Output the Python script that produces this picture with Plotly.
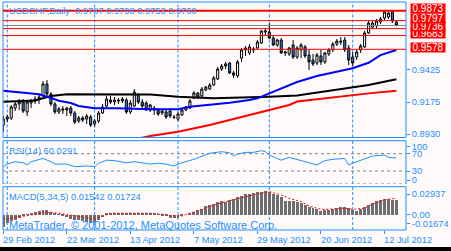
import plotly.graph_objects as go

# ---------------- data ----------------
bar_index = list(range(100))
date_labels = ["29 Feb 2012", "22 Mar 2012", "13 Apr 2012", "7 May 2012",
               "29 May 2012", "20 Jun 2012", "12 Jul 2012"]
date_label_bars = [0, 16, 32, 48, 64, 80, 96]
month_start_bars = [1, 23, 44, 67, 88]

open_ = [0.8999, 0.9045, 0.9053, 0.9129, 0.9160, 0.9175, 0.9099, 0.9167, 0.9183, 0.9198,
         0.9221, 0.9313, 0.9236, 0.9160, 0.9099, 0.9122, 0.9114, 0.9129, 0.9091, 0.9030,
         0.9053, 0.9045, 0.9060, 0.9007, 0.9030, 0.9091, 0.9144, 0.9190, 0.9175, 0.9190,
         0.9183, 0.9190, 0.9099, 0.9144, 0.9229, 0.9175, 0.9167, 0.9114, 0.9129, 0.9114,
         0.9091, 0.9099, 0.9106, 0.9060, 0.9045, 0.9076, 0.9114, 0.9129, 0.9206, 0.9244,
         0.9221, 0.9267, 0.9274, 0.9305, 0.9351, 0.9427, 0.9450, 0.9473, 0.9397, 0.9374,
         0.9511, 0.9573, 0.9550, 0.9573, 0.9588, 0.9626, 0.9710, 0.9710, 0.9664, 0.9611,
         0.9649, 0.9550, 0.9542, 0.9611, 0.9519, 0.9573, 0.9596, 0.9534, 0.9496, 0.9473,
         0.9527, 0.9481, 0.9542, 0.9573, 0.9618, 0.9641, 0.9649, 0.9588, 0.9519, 0.9519,
         0.9573, 0.9596, 0.9703, 0.9748, 0.9756, 0.9787, 0.9817, 0.9825, 0.9863, 0.9787]
high = [0.9068, 0.9076, 0.9152, 0.9175, 0.9198, 0.9198, 0.9190, 0.9198, 0.9221, 0.9229,
        0.9336, 0.9343, 0.9251, 0.9175, 0.9137, 0.9144, 0.9137, 0.9144, 0.9106, 0.9068,
        0.9068, 0.9083, 0.9076, 0.9045, 0.9106, 0.9160, 0.9221, 0.9221, 0.9213, 0.9206,
        0.9213, 0.9206, 0.9190, 0.9274, 0.9244, 0.9198, 0.9183, 0.9160, 0.9144, 0.9129,
        0.9122, 0.9114, 0.9129, 0.9076, 0.9099, 0.9129, 0.9144, 0.9198, 0.9259, 0.9251,
        0.9290, 0.9297, 0.9320, 0.9374, 0.9443, 0.9466, 0.9481, 0.9481, 0.9412, 0.9496,
        0.9588, 0.9603, 0.9618, 0.9596, 0.9649, 0.9725, 0.9741, 0.9779, 0.9680, 0.9657,
        0.9664, 0.9565, 0.9596, 0.9649, 0.9603, 0.9626, 0.9611, 0.9573, 0.9542, 0.9550,
        0.9573, 0.9557, 0.9588, 0.9634, 0.9657, 0.9672, 0.9672, 0.9611, 0.9557, 0.9573,
        0.9618, 0.9718, 0.9794, 0.9794, 0.9810, 0.9825, 0.9870, 0.9868, 0.9873, 0.9798]
low = [0.8946, 0.9022, 0.9037, 0.9106, 0.9114, 0.9091, 0.9068, 0.9129, 0.9160, 0.9160,
       0.9213, 0.9213, 0.9144, 0.9083, 0.9083, 0.9083, 0.9068, 0.9068, 0.9007, 0.9014,
       0.9022, 0.9007, 0.8984, 0.8984, 0.9014, 0.9083, 0.9137, 0.9160, 0.9152, 0.9160,
       0.9167, 0.9083, 0.9083, 0.9137, 0.9160, 0.9129, 0.9106, 0.9099, 0.9076, 0.9068,
       0.9076, 0.9045, 0.9053, 0.9045, 0.9030, 0.9068, 0.9106, 0.9122, 0.9198, 0.9198,
       0.9213, 0.9259, 0.9267, 0.9297, 0.9343, 0.9412, 0.9427, 0.9389, 0.9359, 0.9359,
       0.9481, 0.9527, 0.9534, 0.9550, 0.9580, 0.9618, 0.9687, 0.9657, 0.9603, 0.9596,
       0.9542, 0.9527, 0.9527, 0.9504, 0.9504, 0.9511, 0.9511, 0.9420, 0.9450, 0.9458,
       0.9458, 0.9466, 0.9527, 0.9557, 0.9603, 0.9611, 0.9557, 0.9458, 0.9450, 0.9496,
       0.9550, 0.9588, 0.9695, 0.9733, 0.9741, 0.9771, 0.9802, 0.9810, 0.9779, 0.9753]
close = [0.9045, 0.9060, 0.9137, 0.9160, 0.9175, 0.9106, 0.9175, 0.9183, 0.9198, 0.9213,
         0.9313, 0.9236, 0.9160, 0.9099, 0.9122, 0.9114, 0.9129, 0.9091, 0.9022, 0.9053,
         0.9037, 0.9068, 0.8999, 0.9030, 0.9091, 0.9137, 0.9198, 0.9175, 0.9190, 0.9183,
         0.9198, 0.9099, 0.9167, 0.9251, 0.9175, 0.9144, 0.9114, 0.9152, 0.9114, 0.9083,
         0.9106, 0.9060, 0.9068, 0.9058, 0.9083, 0.9114, 0.9137, 0.9183, 0.9244, 0.9213,
         0.9274, 0.9290, 0.9305, 0.9359, 0.9427, 0.9450, 0.9466, 0.9397, 0.9381, 0.9481,
         0.9573, 0.9588, 0.9596, 0.9580, 0.9634, 0.9718, 0.9718, 0.9664, 0.9611, 0.9649,
         0.9550, 0.9557, 0.9588, 0.9519, 0.9588, 0.9611, 0.9527, 0.9481, 0.9466, 0.9534,
         0.9481, 0.9550, 0.9573, 0.9618, 0.9641, 0.9634, 0.9573, 0.9496, 0.9473, 0.9557,
         0.9603, 0.9703, 0.9779, 0.9779, 0.9794, 0.9810, 0.9863, 0.9855, 0.9794, 0.9760]

ma_blue_bars = [0, 4, 9, 12, 14, 17, 19, 23, 29, 37, 44, 47, 52, 57, 62, 64, 67, 70, 74, 79, 84, 88, 92, 95, 99]
ma_blue = [0.9261, 0.9251, 0.9234, 0.9206, 0.9185, 0.9167, 0.9144, 0.9127, 0.9127, 0.9119,
           0.9119, 0.9139, 0.9152, 0.9170, 0.9190, 0.9203, 0.9241, 0.9280, 0.9328, 0.9374,
           0.9407, 0.9433, 0.9475, 0.9534, 0.9573]
ma_black_bars = [0, 8, 12, 16, 37, 44, 53, 61, 67, 74, 84, 92, 99]
ma_black = [0.9177, 0.9186, 0.9221, 0.9234, 0.9232, 0.9215, 0.9203, 0.9208, 0.9215, 0.9225,
            0.9267, 0.9305, 0.9349]
ma_red_bars = [30, 35, 37, 44, 52, 57, 62, 67, 72, 74, 84, 92, 99]
ma_red = [0.8870, 0.8904, 0.8915, 0.8948, 0.8999, 0.9037, 0.9076, 0.9114, 0.9152, 0.9179,
          0.9215, 0.9241, 0.9261]

hline_levels = [0.9578, 0.9683, 0.9736, 0.9797, 0.9873]
bid_level = 0.9760
price_ticks = [0.8930, 0.9175, 0.9425]

rsi_bars = [0, 1, 3, 5, 6, 7, 8, 10, 12, 13, 16, 18, 21, 23, 24, 26, 28, 31, 33, 35, 37, 39, 41, 43,
            45, 48, 50, 52, 55, 57, 58, 59, 61, 63, 65, 66, 67, 70, 72, 75, 77, 79, 81, 83, 86, 87,
            88, 91, 93, 96, 97, 99]
rsi = [40, 46, 51.5, 49, 44, 51.5, 54, 59, 51.5, 46, 46, 40, 41.5, 40, 48, 55, 54, 49, 51.5, 48,
       46, 48, 46, 41.5, 49, 57, 64.7, 71, 74.6, 72, 64.7, 69, 73, 73, 77, 74.6, 67, 55, 61.5,
       54, 49, 44, 54, 57, 59, 44, 48, 57, 64.7, 67, 61.5, 60.03]
rsi_levels = [0, 30, 70]

macd_hist = [-0.0135, -0.0089, -0.0068, -0.0055, -0.0035, -0.0020, 0.0005, 0.0018, 0.0030, 0.0042,
             0.0050, 0.0045, 0.0030, 0.0017, 0.0005, -0.0015, -0.0030, -0.0045, -0.0055, -0.0060,
             -0.0068, -0.0078, -0.0085, -0.0078, -0.0053, -0.0025, 0.0008, 0.0020, 0.0020, 0.0020,
             0.0018, 0.0017, 0.0017, 0.0018, 0.0018, 0.0012, 0.0010, 0.0010, 0.0008, 0.0003,
             -0.0010, -0.0020, -0.0033, -0.0039, -0.0032, -0.0018, 0.0000, 0.0010, 0.0028, 0.0046,
             0.0063, 0.0088, 0.0100, 0.0115, 0.0132, 0.0145, 0.0138, 0.0150, 0.0165, 0.0184,
             0.0203, 0.0215, 0.0222, 0.0228, 0.0236, 0.0245, 0.0252, 0.0240, 0.0215, 0.0204,
             0.0185, 0.0148, 0.0146, 0.0146, 0.0136, 0.0125, 0.0102, 0.0085, 0.0067, 0.0055,
             0.0041, 0.0044, 0.0052, 0.0062, 0.0072, 0.0080, 0.0080, 0.0068, 0.0047, 0.0041,
             0.0058, 0.0078, 0.0102, 0.0126, 0.0147, 0.0160, 0.0170, 0.0162, 0.0160, 0.0154]
signal_bars = [0, 2, 4, 7, 9, 12, 14, 17, 19, 22, 23, 25, 27, 31, 34, 37, 40, 42, 45, 47, 51, 54, 57,
               61, 64, 67, 68, 70, 72, 75, 77, 80, 82, 86, 88, 91, 93, 96, 99]
signal = [-0.0055, -0.0043, -0.0032, -0.0007, 0.0011, 0.0021, 0.0011, -0.0007, -0.0018, -0.0043,
          -0.0053, -0.0025, 0.0011, 0.0011, 0.0011, 0.0011, 0.0, -0.0015, -0.0018, 0.0011, 0.0064,
          0.0110, 0.0145, 0.0188, 0.0216, 0.0241, 0.0230, 0.0206, 0.0170, 0.0135, 0.0089, 0.0053,
          0.0053, 0.0064, 0.0053, 0.0064, 0.0110, 0.0152, 0.01724]
macd_range = [-0.01674, 0.02937]

# ---------------- styling ----------------
BLUE = "#1E90FF"
BG = "#FFFAFA"
FONT = "Liberation Sans"
FS = 9.3
W, H = 451, 251
ML, MR, MT, MB = 3, 42, 2, 21
PH = H - MT - MB


def py(pix):
    return (H - MB - pix) / PH


main_dom = [py(137.5), 1.0]
rsi_dom = [py(184), py(140.7)]
macd_dom = [0.0, py(186.7)]

fig = go.Figure()
fig.add_trace(go.Candlestick(
    x=bar_index, open=open_, high=high, low=low, close=close,
    xaxis="x", yaxis="y", whiskerwidth=0, showlegend=False, hoverinfo="skip",
    increasing=dict(fillcolor="white", line=dict(color="black", width=1)),
    decreasing=dict(fillcolor="#3B7DD8", line=dict(color="black", width=1))))
for bx, vals, col in [(ma_red_bars, ma_red, "#FF0000"), (ma_black_bars, ma_black, "#000000"),
                      (ma_blue_bars, ma_blue, "#0000FF")]:
    fig.add_trace(go.Scatter(x=bx, y=vals, mode="lines", xaxis="x", yaxis="y",
                             line=dict(color=col, width=2), showlegend=False, hoverinfo="skip"))

fig.add_trace(go.Scatter(x=rsi_bars, y=rsi, mode="lines", xaxis="x2", yaxis="y2",
                         line=dict(color=BLUE, width=1), showlegend=False, hoverinfo="skip"))

fig.add_trace(go.Bar(x=bar_index, y=macd_hist, xaxis="x3", yaxis="y3", width=0.75,
                     marker=dict(color="#6E6E6E", line=dict(width=0)), showlegend=False,
                     hoverinfo="skip"))
fig.add_trace(go.Scatter(x=signal_bars, y=signal, mode="lines", xaxis="x3", yaxis="y3",
                         line=dict(color="#FF0000", width=1, dash="2px,2px"),
                         showlegend=False, hoverinfo="skip"))

xr = [-0.075, 101.425]
xcommon = dict(showgrid=False, zeroline=False, showline=False, range=xr, fixedrange=True)
tickfont = dict(family=FONT, size=FS, color=BLUE)
ycommon = dict(side="right", showgrid=False, zeroline=False, showline=False, ticks="outside",
               ticklen=3, tickcolor=BLUE, tickfont=tickfont)

shapes = []
# panel borders
shapes.append(dict(type="rect", xref="paper", yref="paper", x0=0, x1=1, y0=main_dom[0], y1=1,
                   line=dict(color=BLUE, width=1), layer="above"))
shapes.append(dict(type="rect", xref="paper", yref="paper", x0=0, x1=1, y0=macd_dom[0], y1=macd_dom[1],
                   line=dict(color=BLUE, width=1), layer="above"))
for seg in [(0, 0, rsi_dom[0], rsi_dom[1]), (1, 1, rsi_dom[0], rsi_dom[1]),
            (0, 1, rsi_dom[1], rsi_dom[1])]:
    shapes.append(dict(type="line", xref="paper", yref="paper", x0=seg[0], x1=seg[1],
                       y0=seg[2], y1=seg[3], line=dict(color=BLUE, width=1), layer="above"))
# vertical dashed grid (month starts)
for b in month_start_bars:
    for dom in (main_dom, rsi_dom, macd_dom):
        shapes.append(dict(type="line", xref="x", yref="paper", x0=b, x1=b, y0=dom[0], y1=dom[1],
                           line=dict(color=BLUE, width=1, dash="3px,2px"), layer="below"))
# RSI levels
for lv in rsi_levels:
    shapes.append(dict(type="line", xref="paper", yref="y2", x0=0, x1=1, y0=lv, y1=lv,
                       line=dict(color="#808080", width=1, dash="3px,3px"), layer="below"))
# horizontal price lines
shapes.append(dict(type="line", xref="paper", yref="y", x0=0, x1=1, y0=bid_level, y1=bid_level,
                   line=dict(color="#778899", width=1), layer="above"))
for lv in hline_levels:
    shapes.append(dict(type="line", xref="paper", yref="y", x0=0, x1=1, y0=lv, y1=lv,
                       line=dict(color="#FF0000", width=2 if lv == max(hline_levels) else 1),
                       layer="above"))
# bottom black strip
shapes.append(dict(type="rect", xref="paper", yref="paper", x0=-0.05, x1=1.2, y0=py(251.5), y1=py(247),
                   fillcolor="black", line=dict(width=0), layer="above"))

ann = []
txt = dict(family=FONT, size=FS, color=BLUE)
ann.append(dict(text="USDCHF,Daily\u00a0\u00a00.9787 0.9798 0.9753 0.9760", xref="paper", yref="paper",
                x=0, y=py(11), xanchor="left", yanchor="middle", xshift=4, showarrow=False, font=txt))
ann.append(dict(text="RSI(14) 60.0291", xref="paper", yref="paper", x=0, y=py(150.5),
                xanchor="left", yanchor="middle", xshift=4, showarrow=False, font=txt))
ann.append(dict(text="MACD(5,34,5) 0.01542 0.01724", xref="paper", yref="paper", x=0, y=py(196.7),
                xanchor="left", yanchor="middle", xshift=4, showarrow=False, font=txt))
ann.append(dict(text="MetaTrader, \u00a9 2001-2012, MetaQuotes Software Corp.", xref="paper",
                yref="paper", x=0, y=py(225), xanchor="left", yanchor="middle", xshift=4,
                showarrow=False, font=dict(family=FONT, size=11, color=BLUE)))
for b, lab in zip(date_label_bars, date_labels):
    ann.append(dict(text=lab, xref="x3", yref="paper", x=b, y=py(239.5), xanchor="left",
                    yanchor="middle", xshift=-2, showarrow=False, font=txt))
for lv in hline_levels:
    ann.append(dict(text=f"{lv:.4f}", xref="paper", yref="y", x=1, y=lv, xanchor="left",
                    yanchor="middle", xshift=3.7, yshift=2, showarrow=False, bgcolor="#FF0000",
                    width=34, height=9, borderpad=0,
                    font=dict(family=FONT, size=10, color="white")))

fig.update_layout(
    width=W, height=H, margin=dict(l=ML, r=MR, t=MT, b=MB, pad=0),
    paper_bgcolor=BG, plot_bgcolor=BG, showlegend=False, boxgap=0.25,
    xaxis=dict(domain=[0, 1], anchor="y", showticklabels=False, ticks="",
               rangeslider=dict(visible=False), **xcommon),
    xaxis2=dict(domain=[0, 1], anchor="y2", matches="x", showticklabels=False, ticks="", **xcommon),
    xaxis3=dict(domain=[0, 1], anchor="y3", matches="x", showticklabels=False, ticks="outside",
                ticklen=3, tickcolor=BLUE, tickmode="array", tickvals=date_label_bars, **xcommon),
    yaxis=dict(domain=main_dom, anchor="x", range=[0.89036, 0.99395], tickmode="array",
               tickvals=price_ticks, ticktext=[f"{v:.4f}" for v in price_ticks], **ycommon),
    yaxis2=dict(domain=rsi_dom, anchor="x2", range=[0, 100], tickmode="array",
                tickvals=[86, 70, 30, 9], ticktext=["100", "70", "30", "0"], **ycommon),
    yaxis3=dict(domain=macd_dom, anchor="x3", range=macd_range, tickmode="array",
                tickvals=[0.0216, 0.0, -0.0096], ticktext=["0.02937", "0.00", "-0.01674"], **ycommon),
    shapes=shapes, annotations=ann, bargap=0,
)

fig.write_html("out.html")
